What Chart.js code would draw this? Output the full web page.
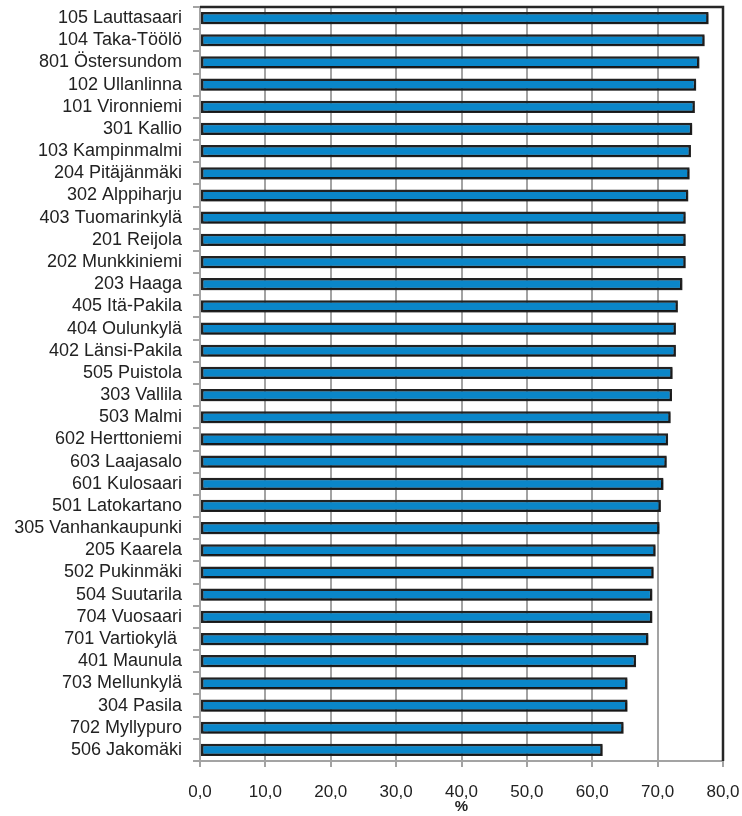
<!DOCTYPE html>
<html>
<head>
<meta charset="utf-8">
<script src="https://cdn.jsdelivr.net/npm/chart.js@4/dist/chart.umd.min.js"></script>
<style>
  body { margin: 0; background: #fff; }
  #wrap { width: 742px; height: 816px; }
</style>
</head>
<body>
<div id="wrap"><canvas id="myChart" width="742" height="816"></canvas></div>
<script>
// districts, top to bottom
var districts = [
    '105 Lauttasaari', '104 Taka-Töölö', '801 Östersundom', '102 Ullanlinna',
    '101 Vironniemi', '301 Kallio', '103 Kampinmalmi', '204 Pitäjänmäki',
    '302 Alppiharju', '403 Tuomarinkylä', '201 Reijola', '202 Munkkiniemi',
    '203 Haaga', '405 Itä-Pakila', '404 Oulunkylä', '402 Länsi-Pakila',
    '505 Puistola', '303 Vallila', '503 Malmi', '602 Herttoniemi',
    '603 Laajasalo', '601 Kulosaari', '501 Latokartano', '305 Vanhankaupunki',
    '205 Kaarela', '502 Pukinmäki', '504 Suutarila', '704 Vuosaari',
    '701 Vartiokylä ', '401 Maunula', '703 Mellunkylä', '304 Pasila',
    '702 Myllypuro', '506 Jakomäki'
];

var percents = [
    77.8, 77.2, 76.4, 75.9, 75.7, 75.3, 75.1, 74.9,
    74.7, 74.3, 74.3, 74.3, 73.8, 73.1, 72.8, 72.8,
    72.3, 72.2, 72.0, 71.6, 71.4, 70.9, 70.5, 70.3,
    69.7, 69.4, 69.2, 69.2, 68.6, 66.7, 65.4, 65.4,
    64.8, 61.6
];

var xTicks = [0, 10, 20, 30, 40, 50, 60, 70, 80];

document.addEventListener('DOMContentLoaded', function () {

    // light drop shadow behind the bars
    var barShadow = {
        id: 'barShadow',
        beforeDatasetsDraw: function (chart) {
            var ctx = chart.ctx;
            ctx.save();
            ctx.shadowColor = 'rgba(0,0,0,0.35)';
            ctx.shadowOffsetX = 1.5;
            ctx.shadowOffsetY = 1.5;
            ctx.shadowBlur = 1;
        },
        afterDatasetsDraw: function (chart) {
            chart.ctx.restore();
        }
    };

    // dark frame on top and right side of the plot
    var frame = {
        id: 'frame',
        afterDraw: function (chart) {
            var a = chart.chartArea;
            var ctx = chart.ctx;
            ctx.save();
            ctx.strokeStyle = '#262626';
            ctx.lineWidth = 2.5;
            ctx.beginPath();
            ctx.moveTo(a.left, a.top);
            ctx.lineTo(a.right, a.top);
            ctx.lineTo(a.right, a.bottom);
            ctx.stroke();
            ctx.restore();
        }
    };

    var ctx = document.getElementById('myChart').getContext('2d');
    var chart = new Chart(ctx, {
        type: 'bar',
        data: {
            labels: districts,
            datasets: [{
                label: '%',
                data: percents,
                backgroundColor: '#0a86c9',
                borderColor: '#222',
                borderWidth: 2.5,
                borderSkipped: false,
                categoryPercentage: 1,
                barPercentage: 0.55
            }]
        },
        options: {
            indexAxis: 'y',
            responsive: false,
            animation: false,
            layout: { padding: { top: 7, right: 0, left: 0, bottom: 0 } },
            plugins: {
                legend: { display: false },
                tooltip: { enabled: false }
            },
            scales: {
                x: {
                    min: 0,
                    max: 80,
                    afterBuildTicks: function (scale) {
                        scale.ticks = xTicks.map(function (v) { return { value: v }; });
                    },
                    afterFit: function (scale) {
                        scale.height = 55;
                        scale.paddingRight = 19;
                        scale.paddingLeft = 0;
                    },
                    grid: { color: '#a3a3a3', lineWidth: 2, tickLength: 6 },
                    border: { color: '#a3a3a3', width: 2 },
                    ticks: {
                        color: '#222',
                        padding: 15,
                        maxRotation: 0,
                        font: { family: 'Liberation Sans, Arial', size: 17 },
                        callback: function (v) { return v.toFixed(1).replace('.', ','); }
                    },
                    title: {
                        display: true,
                        text: '%',
                        color: '#222',
                        padding: { top: 0, bottom: 0 },
                        font: { family: 'Liberation Sans, Arial', size: 15, weight: 'bold' }
                    }
                },
                y: {
                    afterFit: function (scale) {
                        scale.width = 200;
                        scale.paddingTop = 0;
                        scale.paddingBottom = 0;
                    },
                    grid: { drawOnChartArea: false, color: '#a3a3a3', lineWidth: 2, tickLength: 7 },
                    border: { color: '#a3a3a3', width: 2 },
                    ticks: {
                        color: '#222',
                        padding: 11,
                        autoSkip: false,
                        font: { family: 'Liberation Sans, Arial', size: 18 }
                    }
                }
            }
        },
        plugins: [barShadow, frame]
    });
})
</script>
</body>
</html>
